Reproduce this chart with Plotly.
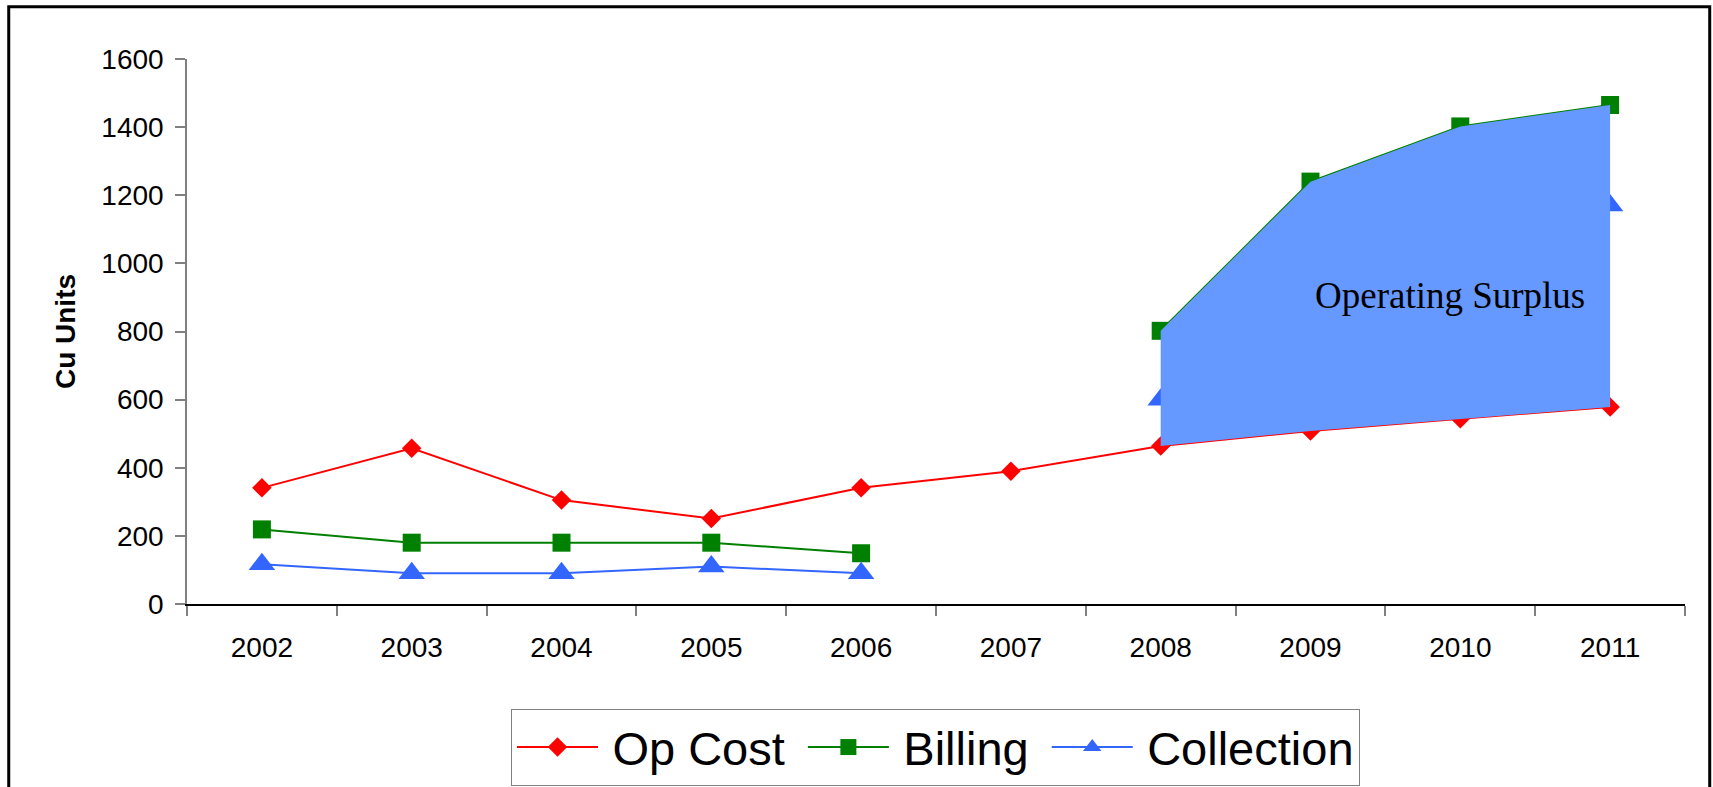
import plotly.graph_objects as go

# Years on the category axis
years = ["2002", "2003", "2004", "2005", "2006", "2007", "2008", "2009", "2010", "2011"]

# Series values (Cu Units)
op_cost = [341, 457, 305, 251, 341, 390, 464, 508, 544, 578]
billing = [219, 180, 180, 180, 149, None, 802, 1240, 1402, 1465]
collection = [117, 90, 90, 110, 90, None, 600, None, None, 1170]

# Years spanned by the operating-surplus band
surplus_years = ["2008", "2009", "2010", "2011"]

y_ticks = [0, 200, 400, 600, 800, 1000, 1200, 1400, 1600]

FONT = "Liberation Sans, Arial, sans-serif"
THIN = "\u2009"
NBSP = "\u00a0"

fig = go.Figure()

fig.add_trace(go.Scatter(
    x=years, y=op_cost, name=THIN + "Op Cost" + NBSP, mode="lines+markers",
    line=dict(color="#FF0000", width=2),
    marker=dict(symbol="diamond", size=15, color="#FF0000"),
))
fig.add_trace(go.Scatter(
    x=years, y=billing, name=THIN + "Billing" + NBSP, mode="lines+markers",
    line=dict(color="#008000", width=2),
    marker=dict(symbol="square", size=18, color="#008000"),
))
fig.add_trace(go.Scatter(
    x=years, y=collection, name=THIN + "Collection", mode="lines+markers",
    line=dict(color="#3366FF", width=2),
    marker=dict(symbol="triangle-up", size=23, color="#3366FF"),
))

# Operating surplus: band between billing (top) and op cost (bottom)
idx = [years.index(y) for y in surplus_years]
band_top = [billing[i] for i in idx]
band_bottom = [op_cost[i] for i in idx]
fig.add_trace(go.Scatter(
    x=surplus_years + surplus_years[::-1],
    y=band_top + band_bottom[::-1],
    mode="lines", fill="toself",
    fillcolor="#6699FF", line=dict(color="#6699FF", width=0),
    showlegend=False, hoverinfo="skip",
))

fig.add_annotation(
    x=years.index("2010"), y=906, xref="x", yref="y", xshift=-10,
    text="Operating Surplus", showarrow=False,
    font=dict(family="Liberation Serif, Times New Roman, serif", size=37, color="black"),
)

# Outer frame around the whole chart
fig.add_shape(
    type="rect", xref="paper", yref="paper",
    x0=-0.1190, x1=1.0165, y0=1.0957, y1=-0.40,
    line=dict(color="black", width=3), fillcolor="rgba(0,0,0,0)",
)

fig.update_layout(
    width=1713, height=787,
    margin=dict(l=187, r=28, t=59, b=183),
    paper_bgcolor="white", plot_bgcolor="white",
    font=dict(family=FONT, size=28, color="black"),
    showlegend=True,
    legend=dict(
        orientation="h",
        xref="container", yref="container",
        x=935.5 / 1713, xanchor="center", y=(787 - 709) / 787, yanchor="top",
        bordercolor="#808080", borderwidth=1, bgcolor="white",
        font=dict(family=FONT, size=47, color="black"),
        itemwidth=81,
    ),
)

fig.update_xaxes(
    type="category", categoryorder="array", categoryarray=years,
    range=[-0.5, 9.5],
    showline=True, linecolor="black", linewidth=1.5,
    ticks="outside", tickson="boundaries", ticklen=10, tickcolor="#808080", tickwidth=1.5,
    showgrid=False, zeroline=False,
    tickfont=dict(family=FONT, size=28),
    ticklabelstandoff=18,
)
fig.update_yaxes(
    range=[0, 1600], tickvals=y_ticks,
    showline=True, linecolor="#808080", linewidth=1.5,
    ticks="outside", ticklen=10, tickcolor="#808080", tickwidth=1.5,
    showgrid=False, zeroline=False,
    tickfont=dict(family=FONT, size=28),
    ticklabelstandoff=6,
    title=dict(text="<b>Cu Units</b>", font=dict(family=FONT, size=28), standoff=18),
)

fig.write_html("out.html")
